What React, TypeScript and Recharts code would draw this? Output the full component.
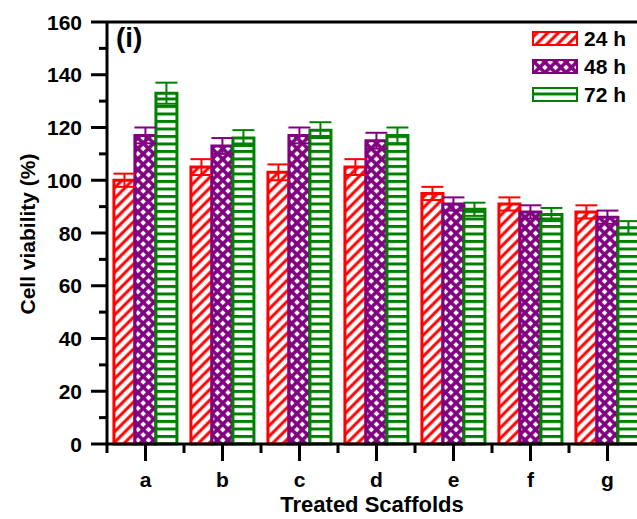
import { BarChart, Bar, XAxis, YAxis, ErrorBar, ReferenceLine, Legend } from "recharts";

const categories = ["a", "b", "c", "d", "e", "f", "g"];
const h24 = [100, 105, 103, 105, 95, 91, 88];
const h48 = [117, 113, 117, 115, 91, 88, 86];
const h72 = [133, 116, 119, 117, 89, 87, 82];
const err24 = [2.5, 3, 3, 3, 2.5, 2.5, 2.5];
const err48 = [3, 3, 3, 3, 2.5, 2.5, 2.5];
const err72 = [4, 3, 3, 3, 2.5, 2.5, 2.5];
const yTicks = [0, 10, 20, 30, 40, 50, 60, 70, 80, 90, 100, 110, 120, 130, 140, 150, 160];

const series = [
    { key: "h24", err: "e24", name: "24 h", color: "#ff0000" },
    { key: "h48", err: "e48", name: "48 h", color: "#800080" },
    { key: "h72", err: "e72", name: "72 h", color: "#008000" },
];

const data = categories.map((c, i) => ({
    name: c,
    h24: h24[i],
    h48: h48[i],
    h72: h72[i],
    e24: err24[i],
    e48: err48[i],
    e72: err72[i],
}));

const FONT = "'Liberation Sans', Arial, sans-serif";
const CHART_W = 680;
const CHART_H = 519;
const Y_AXIS_W = 107;
const MARGIN = { top: 22, right: 34, bottom: 0, left: 0 };
const AXIS_X = MARGIN.left + Y_AXIS_W;
const PLOT_W = CHART_W - Y_AXIS_W - MARGIN.right - MARGIN.left;
const HALF_BAND = PLOT_W / categories.length / 2;

// hatch patterns, one set for the chart and one for the legend swatches
function Patterns({ prefix }: { prefix: string }) {
    return (
        <defs>
            <pattern id={prefix + "24"} patternUnits="userSpaceOnUse" width={7.5} height={7.5} patternTransform="rotate(45)">
                <rect width={7.5} height={7.5} fill="#fff" />
                <line x1={3.75} y1={0} x2={3.75} y2={7.5} stroke="#ff0000" strokeWidth={3} />
            </pattern>
            <pattern id={prefix + "48"} patternUnits="userSpaceOnUse" width={7.5} height={7.5} patternTransform="rotate(45)">
                <rect width={7.5} height={7.5} fill="#800080" />
                <rect x={1.75} y={1.75} width={4} height={4} fill="#fff" />
            </pattern>
            <pattern id={prefix + "72"} patternUnits="userSpaceOnUse" width={10} height={7.5}>
                <rect width={10} height={7.5} fill="#fff" />
                <rect y={0} width={10} height={3} fill="#008000" />
            </pattern>
        </defs>
    );
}

function YTick(props: any) {
    const { y, payload } = props;
    const v = payload.value;
    const major = v % 20 === 0;
    return (
        <g>
            <line x1={AXIS_X} x2={AXIS_X - (major ? 16 : 8)} y1={y} y2={y} stroke="#000" strokeWidth={3} />
            {major && (
                <text x={AXIS_X - 25} y={y} dy="0.36em" textAnchor="end" fontSize={21} fontWeight="bold" fontFamily={FONT} fill="#000">
                    {v}
                </text>
            )}
        </g>
    );
}

function XTick(props: any) {
    const { x, y, payload, index } = props;
    const last = index === categories.length - 1;
    return (
        <g>
            <line x1={x} x2={x} y1={y} y2={y + 17} stroke="#000" strokeWidth={3} />
            <line x1={x - HALF_BAND} x2={x - HALF_BAND} y1={y} y2={y + 9} stroke="#000" strokeWidth={3} />
            {last && <line x1={x + HALF_BAND} x2={x + HALF_BAND} y1={y} y2={y + 9} stroke="#000" strokeWidth={3} />}
            <text x={x} y={y + 43} textAnchor="middle" fontSize={21} fontWeight="bold" fontFamily={FONT} fill="#000">
                {payload.value}
            </text>
        </g>
    );
}

function LegendBox() {
    return (
        <svg width={110} height={84}>
            <Patterns prefix="lp" />
            {series.map((s, i) => (
                <g key={s.key}>
                    <rect x={4} y={7 + i * 28} width={44} height={13} fill={`url(#lp${s.key.slice(1)})`} stroke={s.color} strokeWidth={2} />
                    <text x={55} y={13.5 + i * 28} dy="0.36em" fontSize={21} fontWeight="bold" fontFamily={FONT} fill="#000">
                        {s.name}
                    </text>
                </g>
            ))}
        </svg>
    );
}

export default function App() {
    return (
        <div style={{ position: "fixed", left: 0, top: 0, width: 637, height: 519, overflow: "hidden", background: "#fff" }}>
            <BarChart width={CHART_W} height={CHART_H} data={data} margin={MARGIN} barCategoryGap="9%" barGap={0}>
                <Patterns prefix="bp" />
                <XAxis
                    dataKey="name"
                    height={75}
                    interval={0}
                    tickSize={0}
                    tickMargin={0}
                    tickLine={false}
                    axisLine={{ stroke: "#000", strokeWidth: 3 }}
                    tick={<XTick />}
                />
                <YAxis
                    width={Y_AXIS_W}
                    domain={[0, 160]}
                    ticks={yTicks}
                    interval={0}
                    tickSize={0}
                    tickMargin={0}
                    tickLine={false}
                    axisLine={{ stroke: "#000", strokeWidth: 3 }}
                    tick={<YTick />}
                />
                <ReferenceLine y={160} stroke="#000" strokeWidth={3} />
                {series.map((s) => (
                    <Bar
                        key={s.key}
                        dataKey={s.key}
                        name={s.name}
                        fill={`url(#bp${s.key.slice(1)})`}
                        stroke={s.color}
                        strokeWidth={3}
                        isAnimationActive={false}
                    >
                        <ErrorBar dataKey={s.err} direction="y" width={11} stroke={s.color} strokeWidth={2} />
                    </Bar>
                ))}
                <Legend
                    layout="vertical"
                    align="center"
                    verticalAlign="middle"
                    wrapperStyle={{ left: 529, top: 25, width: 110 }}
                    content={() => <LegendBox />}
                />
            </BarChart>
            <div style={{ position: "absolute", left: 116, top: 22, fontSize: 28, fontWeight: "bold", fontFamily: FONT }}>(i)</div>
            <div
                style={{
                    position: "absolute",
                    left: 28,
                    top: 234,
                    transform: "translate(-50%, -50%) rotate(-90deg)",
                    whiteSpace: "nowrap",
                    fontSize: 21,
                    fontWeight: "bold",
                    fontFamily: FONT,
                }}
            >
                Cell viability (%)
            </div>
            <div
                style={{
                    position: "absolute",
                    left: 372,
                    top: 505,
                    transform: "translate(-50%, -50%)",
                    whiteSpace: "nowrap",
                    fontSize: 22,
                    fontWeight: "bold",
                    fontFamily: FONT,
                }}
            >
                Treated Scaffolds
            </div>
        </div>
    );
}
